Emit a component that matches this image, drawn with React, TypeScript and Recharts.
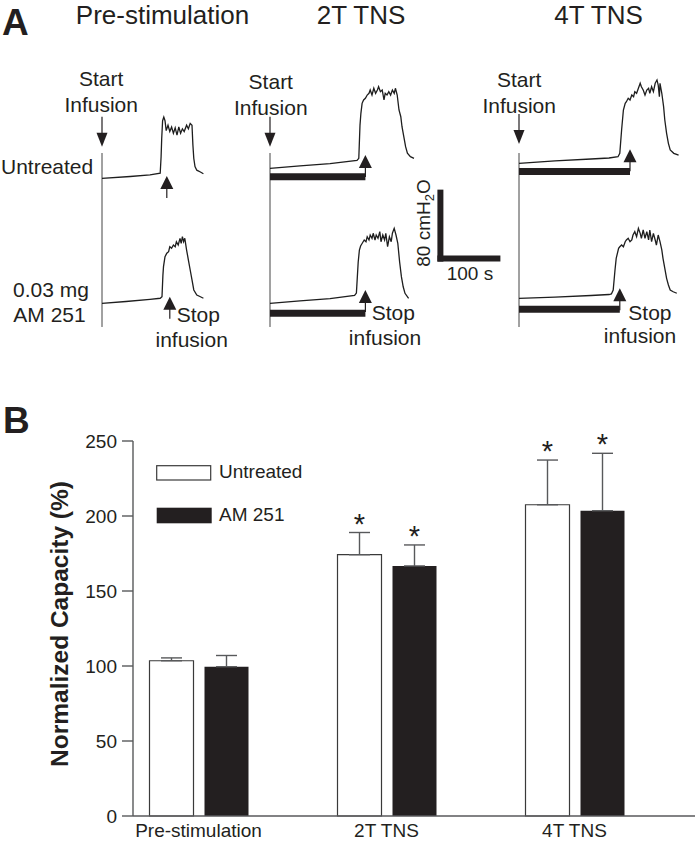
import React from "react";
import {
  LineChart,
  Line,
  XAxis,
  YAxis,
  ReferenceLine,
  ReferenceDot,
  BarChart,
  Bar,
  ErrorBar,
  LabelList,
  Legend,
} from "recharts";

const FONT = '"Liberation Sans", Arial, Helvetica, sans-serif';
const INK = "#231f20";
const AXIS = "#58595b";

// ---------- Panel A: cystometrograms (time s, pressure cmH2O) ----------
const PRE_U_T = [0, 47, 80, 97, 98.5, 99.5, 101, 103, 105, 107, 110, 113, 116, 119, 122, 125, 128, 131, 134, 137, 141, 144, 147, 150, 151.5, 153, 155, 158, 164, 169];
const PRE_U_P = [6, 8, 9.7, 11.6, 30, 50, 70, 74, 70, 59, 65, 58, 63, 56, 62, 54, 63, 56, 61, 58, 65, 61, 67, 65, 43, 28, 19, 15, 13, 11];

const PRE_A_T = [0, 40, 80, 97, 100, 101.5, 102.5, 105, 108, 111, 113, 116, 119, 122, 124, 127, 130, 132, 134, 136, 138, 141, 144, 147, 150, 153, 158, 164, 169];
const PRE_A_P = [6, 8, 10.4, 11.6, 13.3, 37, 46.7, 57.8, 61.6, 63.3, 68.9, 67.1, 70.8, 68.9, 74.4, 70.8, 78.2, 72.7, 80, 74.4, 78.2, 65.2, 54.1, 43, 31.9, 20.8, 15.2, 13.3, 11.6];

const T2_U_T = [0, 50, 100, 145, 148, 150, 151.5, 153.5, 156, 159, 162, 165, 167, 170, 173, 176, 179, 181, 184, 187, 190, 192, 195, 198, 201, 204, 207, 209, 212, 215, 218, 220, 223, 226, 229, 234, 240];
const T2_U_P = [6, 8.6, 11.3, 14.7, 17.1, 54, 67.1, 78.2, 81.9, 83.8, 87.4, 89.3, 93, 87.4, 94.9, 89.3, 93, 96.7, 91.1, 93, 81.9, 89.3, 87.4, 91.1, 87.4, 93, 89.3, 94.9, 87.4, 70.8, 63.3, 52.2, 41.1, 30, 22.7, 18.9, 17.1];

const T2_A_T = [0, 50, 100, 141, 144, 147, 149, 151, 154, 157, 160, 162, 165, 167, 170, 172, 175, 177, 180, 183, 185, 188, 191, 193, 196, 199, 202, 204, 207, 210, 213, 216, 219, 222, 225, 231];
const T2_A_P = [6, 8.6, 11.3, 14.7, 17.4, 51.9, 65.2, 69.7, 73, 76.3, 74.4, 80, 76.3, 81.9, 78.2, 83.8, 76.3, 81.9, 78.2, 85.6, 74.4, 81.9, 76.3, 83.8, 68.9, 80, 74.4, 83.8, 89.3, 81.9, 72.7, 52.2, 35.6, 24.4, 17.1, 11.6];

const T4_U_T = [0, 60, 120, 150, 165, 168, 171, 174, 177, 179, 182, 185, 188, 191, 193, 196, 199, 202, 204, 207, 210, 213, 216, 218, 221, 224, 227, 230, 232, 234, 235, 238, 241, 243, 246, 249, 252, 258, 266];
const T4_U_P = [6, 8.6, 10.8, 11.9, 13.3, 17.1, 43, 65.2, 72.7, 74.4, 78.2, 76.3, 81.9, 80, 85.6, 83.8, 89.3, 94.9, 91.1, 87.4, 81.9, 87.4, 89.3, 83.8, 91.1, 85.6, 94.9, 98.6, 93, 80, 94.9, 83.8, 68.9, 54.1, 39.3, 28.2, 20.8, 17.1, 15.2];

const T4_A_T = [0, 60, 120, 150, 154, 157, 160, 162, 166, 168, 171, 174, 177, 179, 182, 185, 188, 190, 193, 196, 199, 202, 204, 207, 210, 213, 216, 218, 221, 224, 227, 229, 232, 235, 238, 240, 243, 246, 249, 252, 257, 263];
const T4_A_P = [6, 7.4, 9.1, 10.2, 10.8, 15.2, 37.4, 50.4, 61.6, 63.3, 65.2, 63.3, 68.9, 70.8, 72.7, 68.9, 70.8, 76.3, 80, 74.4, 83.8, 78.2, 72.7, 81.9, 72.7, 80, 70.8, 81.9, 68.9, 78.2, 70.8, 65.2, 76.3, 68.9, 59.7, 50.4, 39.3, 28.2, 20.8, 15.2, 13.3, 11.6];

// stop-infusion times (s); stimulation runs from 0 to stop
const STOP_T = [108, 113, 159, 159, 185, 168];

// scale bar: 80 cmH2O x 100 s
const SCALE_DT = 100;
const SCALE_DP = 80;

// ---------- Panel B: normalized capacity ----------
const GROUPS = ["Pre-stimulation", "2T TNS", "4T TNS"];
const UNTREATED = [103.5, 174.2, 207.5];
const UNTREATED_SEM = [1.9, 14.8, 29.8];
const AM251 = [99.5, 166.7, 203.5];
const AM251_SEM = [7.5, 14, 38.3];
const SIG_UNTREATED = [false, true, true];
const SIG_AM251 = [false, true, true];
const Y_TICKS = [0, 50, 100, 150, 200, 250];

// layout of the traces
const TOP = 58;
const BOTTOM = 350;
const PX_S = 0.6;
const PX_CM = 0.9;
const T_MIN = -20;

type TraceCfg = {
  t: number[];
  p: number[];
  x0: number;
  y0: number;
  tMax: number;
  stop: number;
  stopTip: number;
  stim?: number;
  start?: { tip: number; top: number; bottom: number };
  scale?: { t: number; p: number };
};

const TRACES: TraceCfg[] = [
  { t: PRE_U_T, p: PRE_U_P, x0: 102, y0: 183.7, tMax: 185, stop: STOP_T[0], stopTip: 8.6, start: { tip: 41.1, top: 34.1, bottom: -159.2 } },
  { t: PRE_A_T, p: PRE_A_P, x0: 102, y0: 308.7, tMax: 185, stop: STOP_T[1], stopTip: 13.3 },
  { t: T2_U_T, p: T2_U_P, x0: 269.5, y0: 173.7, tMax: 255, stop: STOP_T[2], stopTip: 20.8, stim: -3.3, start: { tip: 30, top: 23, bottom: -170.3 } },
  { t: T2_A_T, p: T2_A_P, x0: 269.5, y0: 308.7, tMax: 400, stop: STOP_T[3], stopTip: 20.8, stim: -5.1, scale: { t: 284, p: 52.3 } },
  { t: T4_U_T, p: T4_U_P, x0: 519, y0: 168.7, tMax: 285, stop: STOP_T[4], stopTip: 21.6, stim: -3.1, start: { tip: 27.4, top: 17.4, bottom: -175.9 } },
  { t: T4_A_T, p: T4_A_P, x0: 519, y0: 303.7, tMax: 285, stop: STOP_T[5], stopTip: 17.1, stim: -6.1 },
];

const DownArrow = (props: any) => {
  const { cx, cy } = props;
  return (
    <g>
      <line x1={cx} y1={cy - 30} x2={cx} y2={cy - 12} stroke={INK} strokeWidth={1.2} />
      <path d={`M${cx - 5.5},${cy - 14} L${cx + 5.5},${cy - 14} L${cx},${cy} Z`} fill={INK} />
    </g>
  );
};

const UpArrow = (props: any) => {
  const { cx, cy } = props;
  return (
    <g>
      <path d={`M${cx},${cy} L${cx - 6.5},${cy + 13} L${cx + 6.5},${cy + 13} Z`} fill={INK} />
      <line x1={cx} y1={cy + 12} x2={cx} y2={cy + 22} stroke={INK} strokeWidth={1.2} />
    </g>
  );
};

function Trace({ cfg }: { cfg: TraceCfg }) {
  const data = cfg.t.map((t, i) => ({ t, p: cfg.p[i] }));
  const width = (cfg.tMax - T_MIN) * PX_S;
  const yDomain = [-(BOTTOM - cfg.y0) / PX_CM, (cfg.y0 - TOP) / PX_CM];
  return (
    <div style={{ position: "absolute", left: cfg.x0 + T_MIN * PX_S, top: TOP }}>
      <LineChart width={width} height={BOTTOM - TOP} data={data} margin={{ top: 0, right: 0, bottom: 0, left: 0 }}>
        <XAxis type="number" dataKey="t" domain={[T_MIN, cfg.tMax]} hide />
        <YAxis type="number" domain={yDomain} hide />
        {cfg.start && (
          <ReferenceLine
            segment={[{ x: 0, y: cfg.start.top }, { x: 0, y: cfg.start.bottom }]}
            stroke="#444"
            strokeWidth={1}
          />
        )}
        {cfg.stim !== undefined && (
          <ReferenceLine
            segment={[{ x: 0, y: cfg.stim }, { x: cfg.stop, y: cfg.stim }]}
            stroke={INK}
            strokeWidth={7}
          />
        )}
        {cfg.scale && (
          <ReferenceLine
            segment={[{ x: cfg.scale.t, y: cfg.scale.p }, { x: cfg.scale.t, y: cfg.scale.p + SCALE_DP }]}
            stroke={INK}
            strokeWidth={6}
          />
        )}
        {cfg.scale && (
          <ReferenceLine
            segment={[{ x: cfg.scale.t - 5, y: cfg.scale.p + 3.5 }, { x: cfg.scale.t + SCALE_DT, y: cfg.scale.p + 3.5 }]}
            stroke={INK}
            strokeWidth={6}
          />
        )}
        <Line
          type="linear"
          dataKey="p"
          stroke="#1e1e1e"
          strokeWidth={1.3}
          dot={false}
          isAnimationActive={false}
        />
        {cfg.start && <ReferenceDot x={0} y={cfg.start.tip} r={1} shape={DownArrow} />}
        <ReferenceDot x={cfg.stop} y={cfg.stopTip} r={1} shape={UpArrow} />
      </LineChart>
    </div>
  );
}

// ---------- Panel B ----------
const barData = GROUPS.map((g, i) => ({
  group: g,
  untreated: UNTREATED[i],
  untreatedErr: [0, UNTREATED_SEM[i]],
  am: AM251[i],
  amErr: [0, AM251_SEM[i]],
}));

const starLabel = (vals: number[], sems: number[], sig: boolean[]) => (props: any) => {
  const { index } = props;
  const vb = props.viewBox || props;
  if (!sig[index]) return null;
  const pxPerUnit = vb.height / vals[index];
  const errTop = vb.y - sems[index] * pxPerUnit;
  return (
    <text
      x={vb.x + vb.width / 2}
      y={errTop + 1}
      textAnchor="middle"
      fontSize={29}
      fontFamily={FONT}
      fill={INK}
    >
      *
    </text>
  );
};

const LegendBox = () => (
  <svg width={170} height={70} style={{ display: "block" }}>
    <rect x={1.7} y={5.7} width={54} height={14.3} fill="#fff" stroke="#3a3a3a" strokeWidth={1.2} />
    <text x={64} y={17.9} fontSize={19} fontFamily={FONT} fill={INK}>Untreated</text>
    <rect x={1.7} y={47.7} width={55} height={15.6} fill={INK} />
    <text x={64} y={61.3} fontSize={19} fontFamily={FONT} fill={INK}>AM 251</text>
  </svg>
);

function CapacityChart() {
  return (
    <div style={{ position: "absolute", left: 0, top: 420 }}>
      <BarChart
        width={695}
        height={424}
        data={barData}
        margin={{ top: 21, right: 0, bottom: 0, left: 73 }}
        barSize={44}
        barGap={11}
      >
        <XAxis
          dataKey="group"
          height={28}
          padding={{ left: -28.5, right: 26.5 }}
          tickLine={false}
          axisLine={{ stroke: AXIS, strokeWidth: 1.4 }}
          tick={{ fontSize: 19, fill: INK, fontFamily: FONT }}
          interval={0}
        />
        <YAxis
          width={60}
          domain={[0, 250]}
          ticks={Y_TICKS}
          tickSize={11}
          tickMargin={5}
          axisLine={{ stroke: AXIS, strokeWidth: 1.4 }}
          tickLine={{ stroke: AXIS, strokeWidth: 1.4 }}
          tick={{ fontSize: 19, fill: INK, fontFamily: FONT }}
        />
        <Legend
          layout="vertical"
          align="center"
          verticalAlign="middle"
          content={() => <LegendBox />}
          wrapperStyle={{ left: 155, top: 40, width: 170, height: 70 }}
        />
        <Bar dataKey="untreated" fill="#ffffff" stroke="#3a3a3a" strokeWidth={1.2} isAnimationActive={false}>
          <ErrorBar dataKey="untreatedErr" width={10.5} stroke={AXIS} strokeWidth={1.4} direction="y" />
          <LabelList dataKey="untreated" content={starLabel(UNTREATED, UNTREATED_SEM, SIG_UNTREATED)} />
        </Bar>
        <Bar dataKey="am" fill={INK} isAnimationActive={false}>
          <ErrorBar dataKey="amErr" width={10.5} stroke={AXIS} strokeWidth={1.4} direction="y" />
          <LabelList dataKey="am" content={starLabel(AM251, AM251_SEM, SIG_AM251)} />
        </Bar>
      </BarChart>
    </div>
  );
}

function Texts() {
  const t = (x: number, y: number, s: string, size = 21, anchor = "start", weight = 400) => (
    <text x={x} y={y} fontSize={size} textAnchor={anchor as any} fontWeight={weight} fill={INK}>
      {s}
    </text>
  );
  return (
    <svg
      width={695}
      height={844}
      style={{ position: "absolute", left: 0, top: 0, pointerEvents: "none" }}
      fontFamily={FONT}
    >
      {t(2, 35, "A", 37, "start", 700)}
      {t(162.5, 23.5, "Pre-stimulation", 26, "middle")}
      {t(361, 23.5, "2T TNS", 26, "middle")}
      {t(598.5, 23.5, "4T TNS", 26, "middle")}

      {t(101.2, 86, "Start", 21, "middle")}
      {t(101.2, 111.7, "Infusion", 21, "middle")}
      {t(270.8, 89.3, "Start", 21, "middle")}
      {t(270.8, 115, "Infusion", 21, "middle")}
      {t(519.2, 87.3, "Start", 21, "middle")}
      {t(519.2, 113.3, "Infusion", 21, "middle")}

      {t(1, 174.3, "Untreated")}
      {t(51, 297, "0.03 mg", 21, "middle")}
      {t(49.5, 321.7, "AM 251", 21, "middle")}

      {t(176.7, 321.7, "Stop")}
      {t(191.7, 346.7, "infusion", 21, "middle")}
      {t(371.7, 320, "Stop")}
      {t(385, 345, "infusion", 21, "middle")}
      {t(628.3, 320, "Stop")}
      {t(640, 343.3, "infusion", 21, "middle")}

      <text transform="translate(430,266.7) rotate(-90)" fontSize={19} fill={INK}>
        80 cmH<tspan fontSize={13} dy={4}>2</tspan>
        <tspan dy={-4}>O</tspan>
      </text>
      {t(446.7, 280, "100 s", 19)}

      {t(3, 433, "B", 37, "start", 700)}
      <text
        transform="translate(68,624) rotate(-90)"
        fontSize={24.5}
        fontWeight={700}
        textAnchor="middle"
        fill={INK}
      >
        Normalized Capacity (%)
      </text>
    </svg>
  );
}

export default function App() {
  return (
    <div
      style={{
        position: "absolute",
        left: 0,
        top: 0,
        width: 695,
        height: 844,
        background: "#fff",
        overflow: "hidden",
        fontFamily: FONT,
      }}
    >
      {TRACES.map((cfg, i) => (
        <Trace key={i} cfg={cfg} />
      ))}
      <CapacityChart />
      <Texts />
    </div>
  );
}
